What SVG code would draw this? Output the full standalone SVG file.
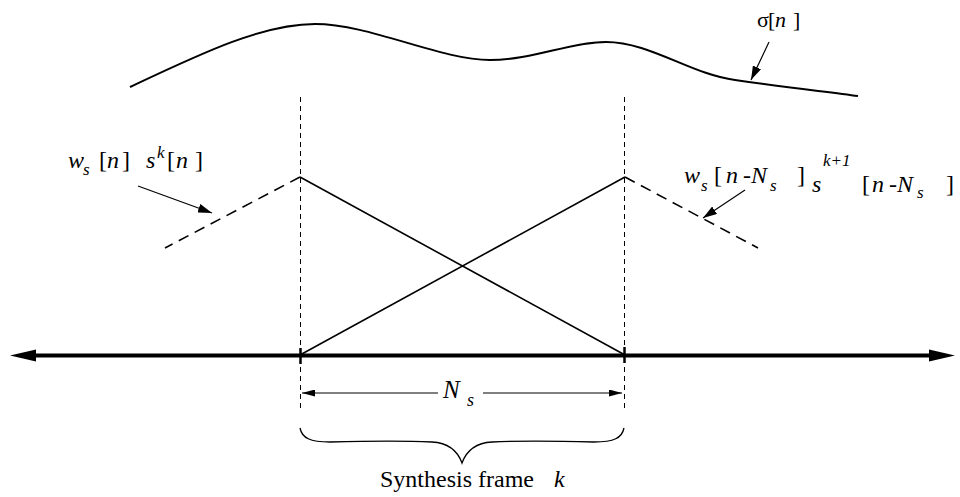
<svg xmlns="http://www.w3.org/2000/svg" width="960" height="497" viewBox="0 0 960 497">
<style>
.tx{font-family:'Liberation Serif','Times New Roman',Times,serif;fill:#000}
.i{font-style:italic}
.ln{stroke:#000;fill:none}
.vd{stroke:#000;stroke-width:1;stroke-dasharray:5 4;fill:none}
.wd{stroke:#000;stroke-width:1.6;stroke-dasharray:11 7;fill:none}
.sol{stroke:#000;stroke-width:1.6;fill:none}
</style>
<defs>
<marker id="ah" viewBox="0 0 14 9" refX="14" refY="4.5" markerWidth="14" markerHeight="9" markerUnits="userSpaceOnUse" orient="auto">
<path d="M0,0 L14,4.5 L0,9 Z" fill="#000"/>
</marker>
<marker id="dh" viewBox="0 0 13 7" refX="13" refY="3.5" markerWidth="13" markerHeight="7" markerUnits="userSpaceOnUse" orient="auto">
<path d="M0,0 L13,3.5 L0,7 Z" fill="#000"/>
</marker>
</defs>
<rect width="960" height="497" fill="#fff"/>

<g id="curve">
<path class="ln" stroke-width="2" d="M130,87 C200,54 262,24 315,24 C370,24 440,60 490,60 C532,60 570,42 606,42 C650,42 690,74 735,80 C790,88 830,92 858,96"/>
</g>

<g id="frame-lines">
<line class="vd" x1="300.5" y1="97" x2="300.5" y2="408"/>
<line class="vd" x1="624.5" y1="97" x2="624.5" y2="408"/>
</g>

<g id="windows">
<line class="sol" x1="300" y1="177" x2="625" y2="355"/>
<line class="sol" x1="300" y1="355" x2="625" y2="177"/>
<line class="wd" x1="300" y1="177" x2="165" y2="248"/>
<line class="wd" x1="625" y1="177" x2="758" y2="248"/>
</g>

<g id="axis">
<line class="ln" stroke-width="4" x1="30" y1="355.5" x2="933" y2="355.5"/>
<polygon points="10,355.5 36,349.5 36,361.5" fill="#000"/>
<polygon points="955,355.5 929,349.5 929,361.5" fill="#000"/>
<line class="ln" stroke-width="2.5" x1="300.5" y1="348" x2="300.5" y2="364"/>
<line class="ln" stroke-width="2.5" x1="624.5" y1="347" x2="624.5" y2="363"/>
</g>

<g id="dimension">
<line class="ln" stroke="#111" stroke-width="1.2" x1="438" y1="393" x2="302" y2="393" marker-end="url(#dh)"/>
<line class="ln" stroke="#111" stroke-width="1.2" x1="483" y1="393" x2="622" y2="393" marker-end="url(#dh)"/>
<text class="tx" font-size="25"><tspan class="i" x="443" y="398">N</tspan><tspan class="i" x="467" y="406" font-size="18">s</tspan></text>
</g>

<g id="brace">
<path class="ln" stroke-width="1.3" d="M300,428 C302,438 310,442 330,442 C370,441 410,441 432,442 C450,443 458,452 462,463 C466,452 474,443 492,442 C514,441 554,441 594,442 C614,442 622,438 624,428"/>
<text class="tx" font-size="24"><tspan x="380" y="487">Synthesis frame</tspan><tspan class="i" x="554" y="487">k</tspan></text>
</g>

<g id="labels">
<text id="label-sigma" class="tx" font-size="22"><tspan x="757" y="27">σ</tspan><tspan x="768" y="27">[</tspan><tspan class="i" x="775" y="27">n</tspan><tspan x="793" y="27">]</tspan></text>
<text id="label-left" class="tx" font-size="24"><tspan class="i" x="68" y="168">w</tspan><tspan class="i" x="83" y="175" font-size="17">s</tspan><tspan x="99" y="168">[</tspan><tspan class="i" x="107" y="168">n</tspan><tspan x="122" y="168">]</tspan><tspan class="i" x="146" y="168">s</tspan><tspan class="i" x="157" y="158" font-size="17">k</tspan><tspan x="167" y="168">[</tspan><tspan class="i" x="176" y="168">n</tspan><tspan x="195" y="168">]</tspan></text>
<text id="label-right" class="tx" font-size="24"><tspan class="i" x="684" y="183">w</tspan><tspan class="i" x="701" y="191" font-size="17">s</tspan><tspan x="714" y="183">[</tspan><tspan class="i" x="726" y="183">n</tspan><tspan x="743" y="183">-</tspan><tspan class="i" x="751" y="183">N</tspan><tspan class="i" x="770" y="191" font-size="17">s</tspan><tspan x="797" y="183">]</tspan><tspan class="i" x="812" y="192">s</tspan><tspan class="i" x="823" y="166" font-size="17">k+1</tspan><tspan x="862" y="192">[</tspan><tspan class="i" x="872" y="192">n</tspan><tspan x="889" y="192">-</tspan><tspan class="i" x="897" y="192">N</tspan><tspan class="i" x="917" y="198" font-size="17">s</tspan><tspan x="946" y="192">]</tspan></text>
</g>

<g id="connectors">
<line class="ln" stroke-width="1.2" x1="769" y1="42" x2="751" y2="80" marker-end="url(#ah)"/>
<line class="ln" stroke-width="1.2" x1="138" y1="186" x2="212" y2="213" marker-end="url(#ah)"/>
<line class="ln" stroke-width="1.2" x1="745" y1="190" x2="703" y2="218" marker-end="url(#ah)"/>
</g>
</svg>
